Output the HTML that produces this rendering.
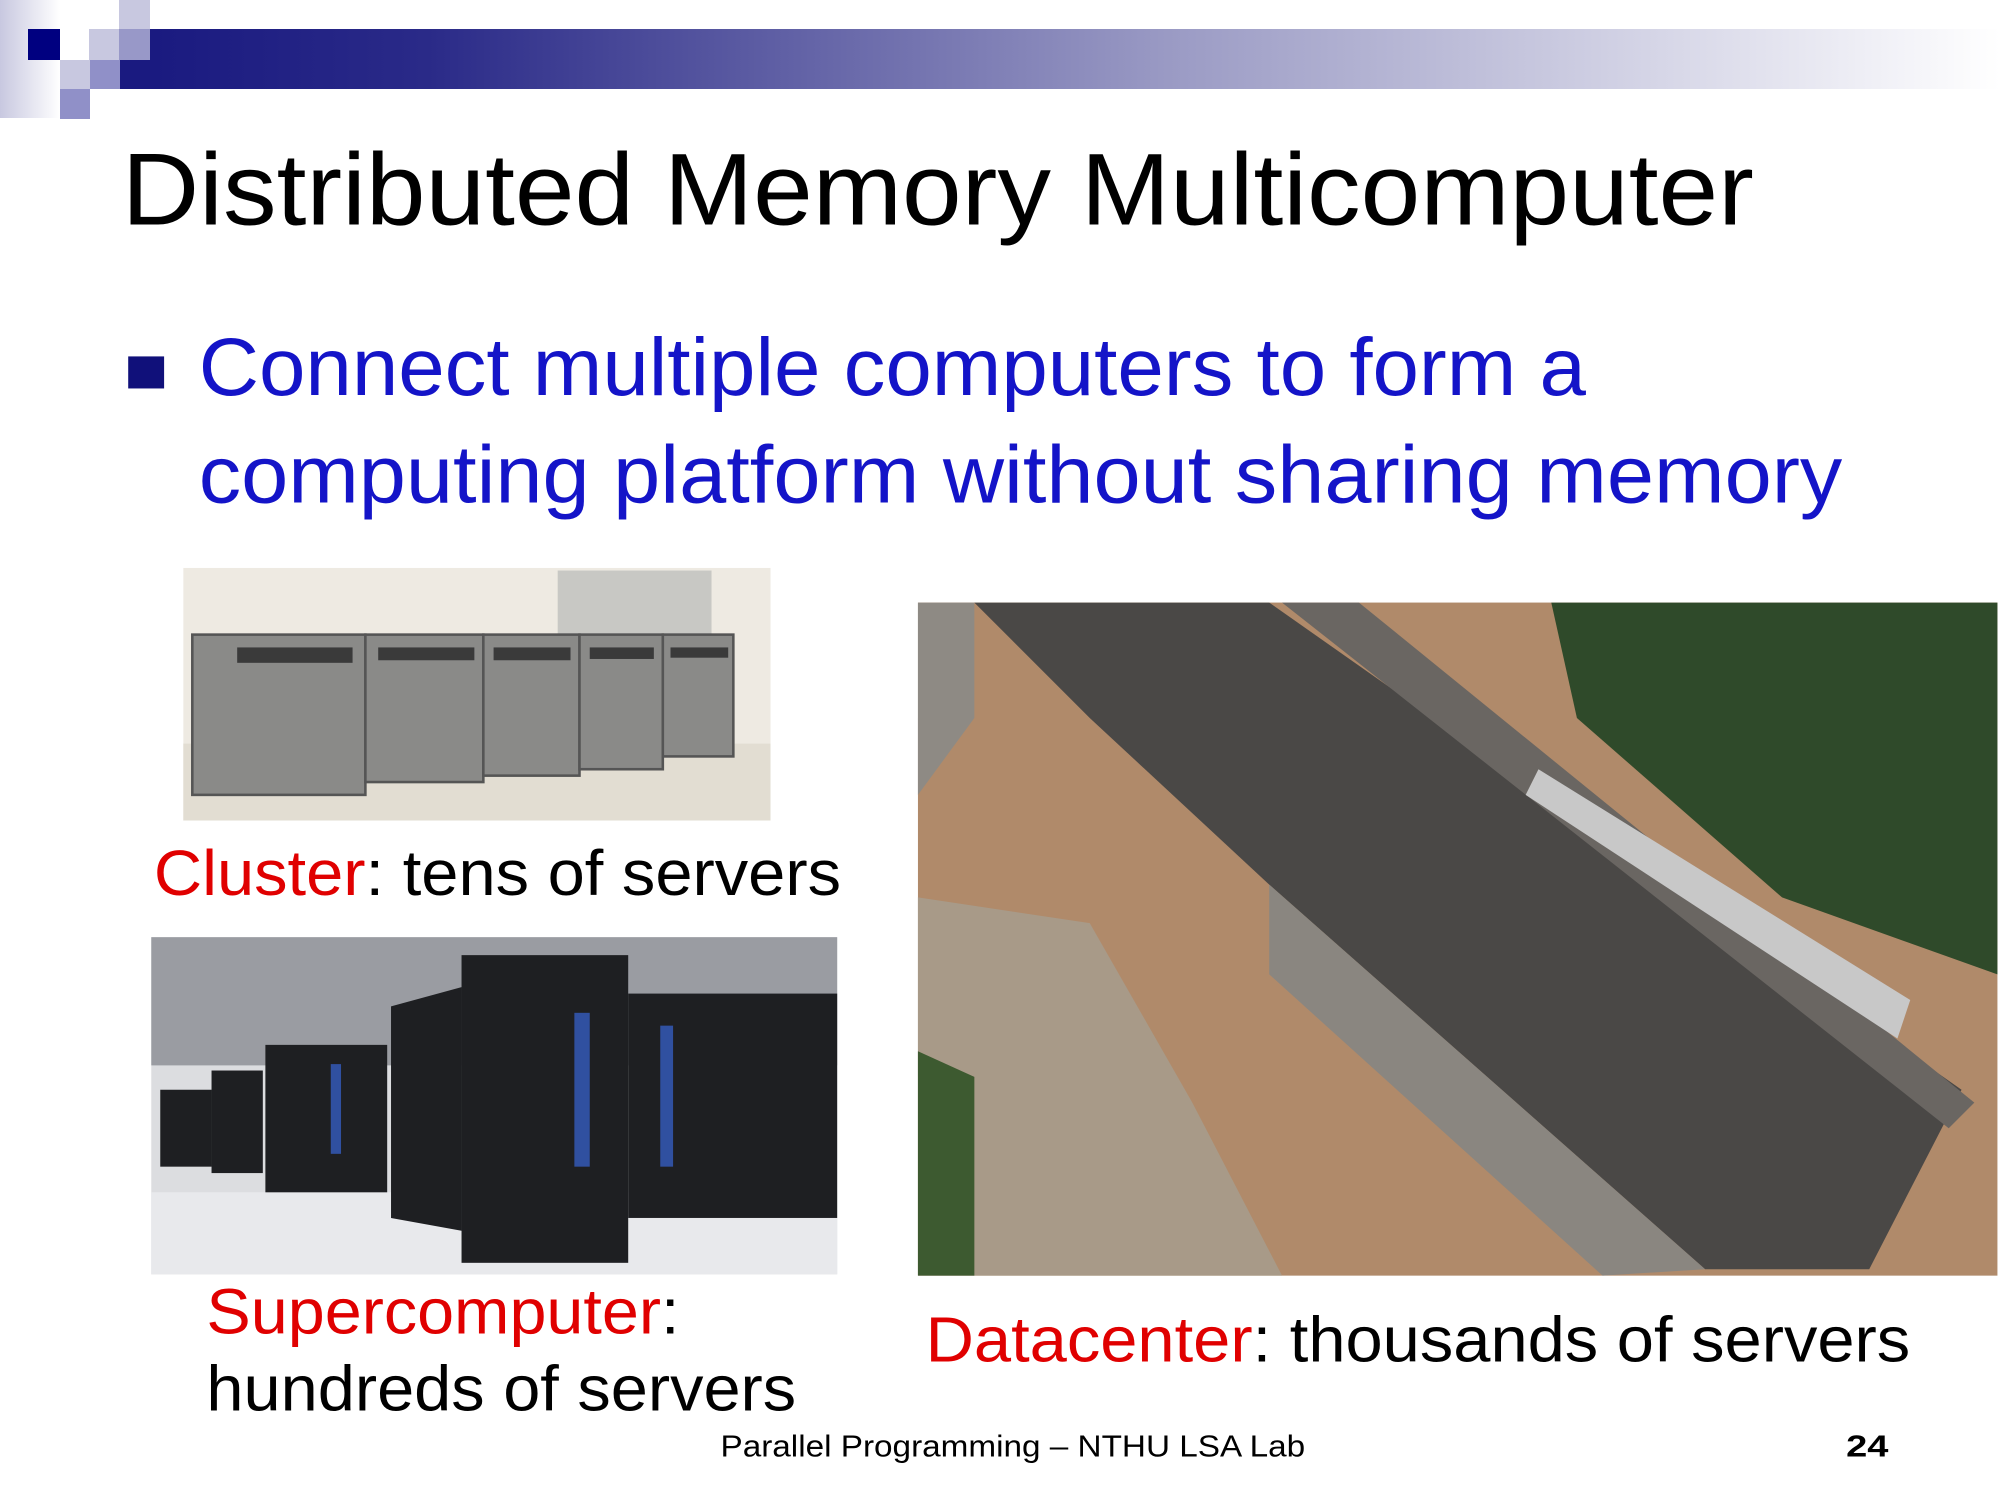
<!DOCTYPE html>
<html><head><meta charset="utf-8"><style>
html,body{margin:0;padding:0;background:#fff;}
svg{position:absolute;left:0;top:0;}
</style></head><body>
<svg width="2000" height="1500" viewBox="0 0 2000 1500">
<defs>
<linearGradient id="lg" x1="0" x2="1"><stop offset="0" stop-color="#c8c8e0"/><stop offset="1" stop-color="#fff"/></linearGradient>
<linearGradient id="bar" x1="0" x2="1"><stop offset="0" stop-color="#1a1a80"/><stop offset="0.15" stop-color="#2a2a88"/><stop offset="0.55" stop-color="#9a9ac4"/><stop offset="1" stop-color="#ffffff"/></linearGradient>
</defs>
<rect x="0" y="0" width="60" height="118" fill="url(#lg)"/>
<rect x="150" y="29" width="1850" height="60" fill="url(#bar)"/>
<rect x="120" y="60" width="30" height="29" fill="#1a1a80"/>
<rect x="28" y="29" width="32" height="31" fill="#000080"/>
<rect x="89" y="29" width="31" height="31" fill="#c8c8e0"/>
<rect x="119" y="0" width="31" height="29" fill="#c8c8e0"/>
<rect x="119" y="29" width="31" height="31" fill="#9898c8"/>
<rect x="60" y="60" width="30" height="29" fill="#c8c8e0"/>
<rect x="90" y="60" width="30" height="29" fill="#9090c8"/>
<rect x="60" y="89" width="30" height="30" fill="#9090c8"/>
</svg>
<svg width="2000" height="1500" viewBox="0 0 1560 1170" font-family="Liberation Sans, Arial, sans-serif">
<text x="95" y="175" font-size="80" fill="#000" textLength="1273" lengthAdjust="spacingAndGlyphs">Distributed Memory Multicomputer</text>
<rect x="100" y="278" width="28" height="25" fill="#10107a"/>
<text x="155" y="308" font-size="64" fill="#1414c8" textLength="1082" lengthAdjust="spacingAndGlyphs">Connect multiple computers to form a</text>
<text x="155" y="392" font-size="64" fill="#1414c8" textLength="1282" lengthAdjust="spacingAndGlyphs">computing platform without sharing memory</text>

<!-- cluster photo -->
<rect x="143" y="443" width="458" height="197" fill="#eeeae2"/>
<rect x="143" y="580" width="458" height="60" fill="#e2ddd2"/>
<rect x="435" y="445" width="120" height="50" fill="#c8c8c4"/>
<g fill="#8a8a88" stroke="#555" stroke-width="2">
<rect x="150" y="495" width="135" height="125"/>
<rect x="285" y="495" width="92" height="115"/>
<rect x="377" y="495" width="75" height="110"/>
<rect x="452" y="495" width="65" height="105"/>
<rect x="517" y="495" width="55" height="95"/>
</g>
<g fill="#3a3a3a"><rect x="185" y="505" width="90" height="12"/><rect x="295" y="505" width="75" height="10"/><rect x="385" y="505" width="60" height="10"/><rect x="460" y="505" width="50" height="9"/><rect x="523" y="505" width="45" height="8"/></g>

<!-- supercomputer photo -->
<rect x="118" y="731" width="535" height="263" fill="#dcdde0"/>
<rect x="118" y="731" width="535" height="100" fill="#9a9ca2"/>
<polygon points="118,930 653,930 653,994 118,994" fill="#e8e9ec"/>
<g fill="#1e1f22">
<rect x="125" y="850" width="40" height="60"/>
<rect x="165" y="835" width="40" height="80"/>
<rect x="207" y="815" width="95" height="115"/>
<polygon points="305,785 360,770 360,960 305,950"/>
<rect x="360" y="745" width="130" height="240"/>
<rect x="490" y="775" width="163" height="175"/>
</g>
<g fill="#3050a0"><rect x="448" y="790" width="12" height="120"/><rect x="515" y="800" width="10" height="110"/><rect x="258" y="830" width="8" height="70"/></g>

<!-- datacenter photo -->
<rect x="716" y="470" width="842" height="525" fill="#b08a6a"/>
<polygon points="1210,470 1558,470 1558,760 1390,700 1230,560" fill="#2f4a2a"/>
<polygon points="716,470 760,470 760,560 716,620" fill="#8e8a84"/>
<polygon points="716,700 850,720 930,860 1000,995 716,995" fill="#a89a88"/>
<polygon points="716,820 760,840 760,995 716,995" fill="#3d5a30"/>
<polygon points="760,470 990,470 1530,850 1458,990 1330,990 990,690 850,560" fill="#4a4846"/>
<polygon points="990,690 1330,990 1250,995 990,760" fill="#8a8680"/>
<polygon points="1000,470 1060,470 1540,860 1520,880" fill="#6a6662"/>
<polygon points="1200,600 1490,780 1480,810 1190,620" fill="#c8c8c8"/>

<text x="120" y="698" font-size="50" textLength="536" lengthAdjust="spacingAndGlyphs"><tspan fill="#e00000">Cluster</tspan><tspan fill="#000">: tens of servers</tspan></text>
<text x="161" y="1040" font-size="50" textLength="369" lengthAdjust="spacingAndGlyphs"><tspan fill="#e00000">Supercomputer</tspan><tspan fill="#000">:</tspan></text>
<text x="161" y="1100" font-size="50" fill="#000" textLength="460" lengthAdjust="spacingAndGlyphs">hundreds of servers</text>
<text x="722" y="1062" font-size="50" textLength="768" lengthAdjust="spacingAndGlyphs"><tspan fill="#e00000">Datacenter</tspan><tspan fill="#000">: thousands of servers</tspan></text>
<text x="562" y="1136" font-size="24" fill="#000" textLength="456" lengthAdjust="spacingAndGlyphs">Parallel Programming – NTHU LSA Lab</text>
<text x="1440" y="1136" font-size="24" font-weight="bold" fill="#000" textLength="33" lengthAdjust="spacingAndGlyphs">24</text>
</svg>
</body></html>
